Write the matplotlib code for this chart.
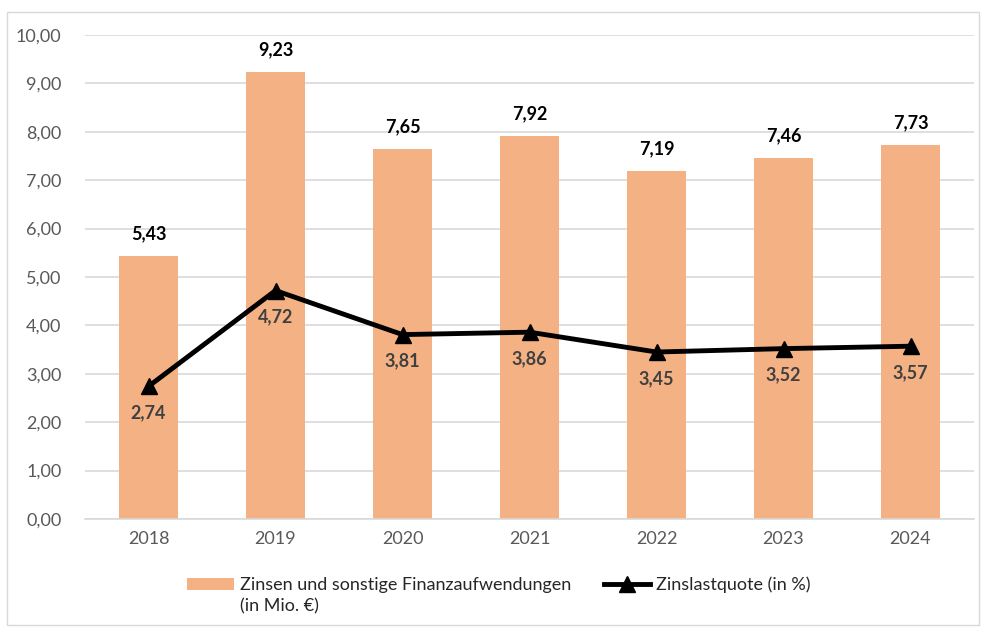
import matplotlib
matplotlib.use("Agg")
import matplotlib.pyplot as plt
from matplotlib.patches import Rectangle

years = ["2018", "2019", "2020", "2021", "2022", "2023", "2024"]
finanzaufwand = [5.43, 9.23, 7.65, 7.92, 7.19, 7.46, 7.73]
zinslastquote = [2.74, 4.72, 3.81, 3.86, 3.45, 3.52, 3.57]
yticks = [0, 1, 2, 3, 4, 5, 6, 7, 8, 9, 10]
bar_label = "Zinsen und sonstige Finanzaufwendungen"
bar_label_unit = "(in Mio. €)"
line_label = "Zinslastquote (in %)"

plt.rcParams['font.family'] = ['Lato', 'DejaVu Sans']

def de(v):
    return f"{v:.2f}".replace(".", ",")

fig = plt.figure(figsize=(9.86, 6.29), dpi=100)
ax = fig.add_axes([85/986, 1-519/629, 889/986, 484/629])

x = list(range(len(years)))
bars = ax.bar(x, finanzaufwand, width=0.46, color="#F4B183", zorder=2, label=bar_label)
line, = ax.plot(x, zinslastquote, color="black", lw=3.5, marker="^", ms=11,
                zorder=3, label=line_label)

for xi, v in zip(x, finanzaufwand):
    ax.annotate(de(v), (xi, v), xytext=(0, 10), textcoords="offset points",
                ha="center", va="bottom", fontsize=13, fontweight="bold", color="black")
for xi, v in zip(x, zinslastquote):
    ax.annotate(de(v), (xi, v), xytext=(0, -13), textcoords="offset points",
                ha="center", va="top", fontsize=13, fontweight="bold", color="#404040")

ax.set_xlim(-0.5, len(years) - 0.5)
ax.set_ylim(0, 10)
ax.set_yticks(yticks)
ax.set_yticklabels([de(v) for v in yticks])
ax.set_xticks(x)
ax.set_xticklabels(years)
ax.tick_params(axis="both", length=0, labelsize=13, labelcolor="#595959")
ax.tick_params(axis="y", pad=17)
ax.tick_params(axis="x", pad=9)
ax.grid(axis="y", color="#D9D9D9", lw=1.2, zorder=0)
ax.set_axisbelow(True)
for s in ["top", "right", "left"]:
    ax.spines[s].set_visible(False)
ax.spines["bottom"].set_color("#D9D9D9")
ax.spines["bottom"].set_linewidth(1.2)

leg = fig.legend(handles=[bars, line], loc="center", bbox_to_anchor=(0.506, 1 - 585/629),
                 ncol=2, frameon=False, fontsize=13, handlelength=2.6, handletextpad=0.3,
                 columnspacing=1.8, labelcolor="#262626")

fig.canvas.draw()
t0 = leg.get_texts()[0]
bb = t0.get_window_extent(fig.canvas.get_renderer())
fig.text(bb.x0 / fig.bbox.width, (bb.y0 - 21) / fig.bbox.height + 0.0, bar_label_unit,
         fontsize=13, color="#262626", ha="left", va="bottom")

fig.patches.append(Rectangle((7/986, 4/629), 972/986, 613/629, transform=fig.transFigure,
                             fill=False, edgecolor="#D9D9D9", lw=1))

fig.savefig("out.png", dpi=100)
